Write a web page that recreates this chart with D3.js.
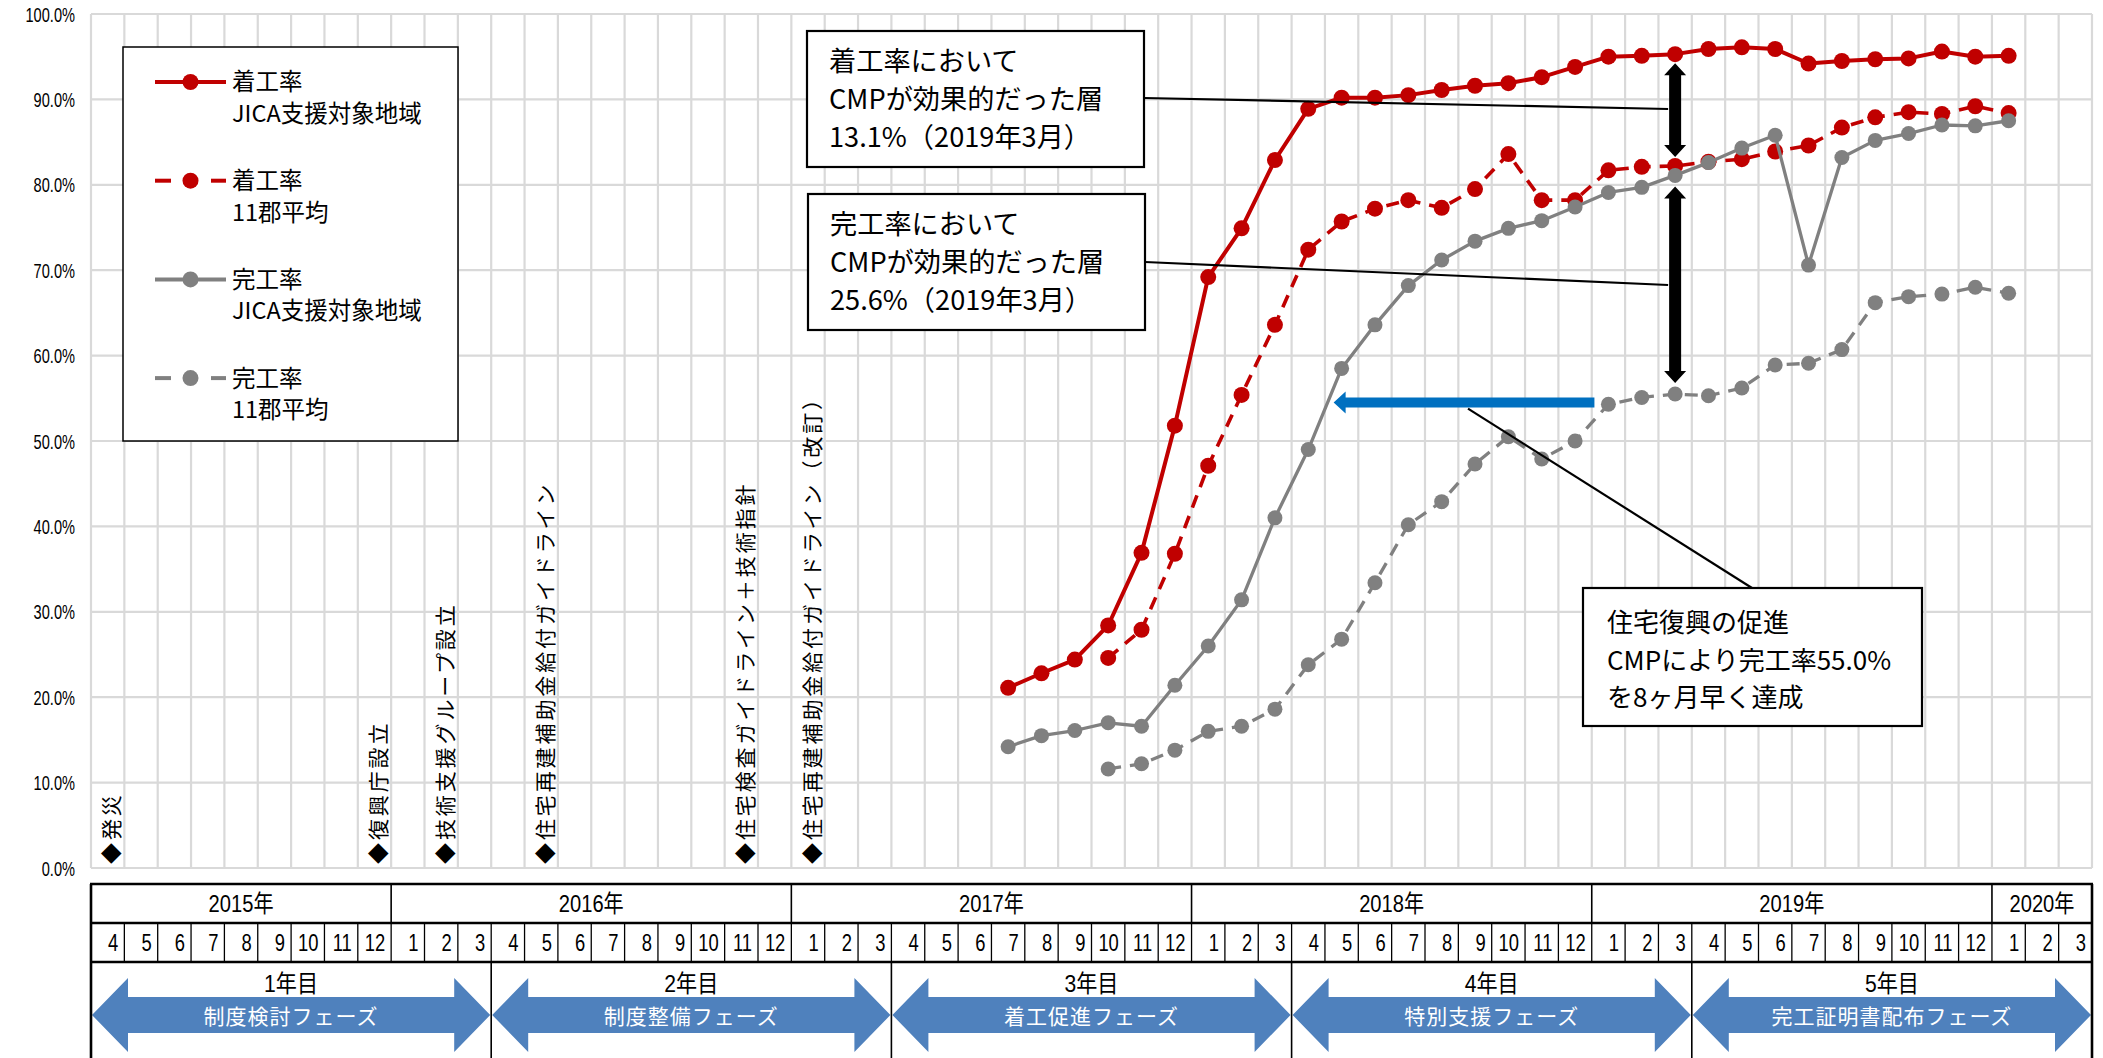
<!DOCTYPE html>
<html>
<head>
<meta charset="utf-8">
<script src="https://cdn.jsdelivr.net/npm/d3@7"></script>
<style>
  body { margin: 0; background: #fff; }
  svg { display: block; font-family: "Noto Sans CJK JP", "Noto Sans", sans-serif; }
</style>
</head>
<body>
<svg id="chart" width="2103" height="1058"></svg>
<script>
// ---- categories: months of the five project years (Apr 2015 – Mar 2020) ----
const monthKeys = [
  "2015-04","2015-05","2015-06","2015-07","2015-08","2015-09","2015-10","2015-11","2015-12",
  "2016-01","2016-02","2016-03","2016-04","2016-05","2016-06","2016-07","2016-08","2016-09","2016-10","2016-11","2016-12",
  "2017-01","2017-02","2017-03","2017-04","2017-05","2017-06","2017-07","2017-08","2017-09","2017-10","2017-11","2017-12",
  "2018-01","2018-02","2018-03","2018-04","2018-05","2018-06","2018-07","2018-08","2018-09","2018-10","2018-11","2018-12",
  "2019-01","2019-02","2019-03","2019-04","2019-05","2019-06","2019-07","2019-08","2019-09","2019-10","2019-11","2019-12",
  "2020-01","2020-02","2020-03"
];
const monthTicks = [
  4,5,6,7,8,9,10,11,12,
  1,2,3,4,5,6,7,8,9,10,11,12,
  1,2,3,4,5,6,7,8,9,10,11,12,
  1,2,3,4,5,6,7,8,9,10,11,12,
  1,2,3,4,5,6,7,8,9,10,11,12,
  1,2,3
];
const yearLabels = ["2015年","2016年","2017年","2018年","2019年","2020年"];
const yearFirstMonth = ["2015-04","2016-01","2017-01","2018-01","2019-01","2020-01"];
const yTickValues = [0,10,20,30,40,50,60,70,80,90,100];

// ---- series values (%) ----
const startJICA = "2017-07";
const start11 = "2017-10";
const chakkouJICA = [21.1,22.8,24.4,28.4,36.9,51.8,
  69.2,74.9,82.9,88.9,90.2,90.2,90.5,91.1,91.6,91.9,92.6,93.8,
  95.0,95.1,95.3,95.9,96.1,95.9,94.2,94.5,94.7,94.8,95.6,95.0,
  95.1];
const chakkou11 = [24.6,27.9,36.8,
  47.1,55.4,63.6,72.4,75.7,77.2,78.2,77.3,79.5,83.6,78.2,78.2,
  81.7,82.1,82.2,82.7,83.0,83.9,84.6,86.7,87.9,88.5,88.3,89.2,
  88.4];
const kankouJICA = [14.2,15.5,16.1,17.0,16.6,21.4,
  26.0,31.4,41.0,49.0,58.5,63.6,68.2,71.2,73.4,74.9,75.8,77.4,
  79.1,79.7,81.1,82.6,84.3,85.8,70.6,83.2,85.2,86.0,87.0,86.9,
  87.5];
const kankou11 = [11.6,12.2,13.8,
  16.0,16.6,18.6,23.8,26.8,33.4,40.2,42.9,47.3,50.5,47.9,50.0,
  54.3,55.1,55.5,55.3,56.2,58.9,59.1,60.7,66.2,66.9,67.2,68.0,
  67.3];

// ---- milestones ----
const eventLabels = ["◆発災","◆復興庁設立","◆技術支援グループ設立","◆住宅再建補助金給付ガイドライン",
  "◆住宅検査ガイドライン＋技術指針","◆住宅再建補助金給付ガイドライン（改訂）"];
const eventMonths = ["2015-04","2015-12","2016-02","2016-05","2016-11","2017-01"];

// ---- project phases ----
const phaseYears = ["1年目","2年目","3年目","4年目","5年目"];
const phaseNames = ["制度検討フェーズ","制度整備フェーズ","着工促進フェーズ","特別支援フェーズ","完工証明書配布フェーズ"];
const phaseStarts = ["2015-04","2016-04","2017-04","2018-04","2019-04"];

// ---- annotations ----
const gapMonth = "2019-03";
const earlyFrom = "2019-01", earlyTo = "2018-05", earlyLevel = 54.5;
const note1 = ["着工率において","CMPが効果的だった層","13.1%（2019年3月）"];
const note2 = ["完工率において","CMPが効果的だった層","25.6%（2019年3月）"];
const note3 = ["住宅復興の促進","CMPにより完工率55.0%","を8ヶ月早く達成"];

// ================= drawing =================
const svg = d3.select("#chart");
const RED = "#C00000", GRAY = "#808080", GRID = "#D9D9D9";
const narrow = "Liberation Sans, Arial, Noto Sans CJK JP, sans-serif";

const x = d3.scaleBand().domain(monthKeys).range([91, 2092]).padding(0);
const y = d3.scaleLinear().domain([0, 100]).range([868, 14]);
const bw = x.bandwidth();
const cx = k => x(k) + bw / 2;
const xEnd = k => x(k) + bw;

// grid
const grid = svg.append("g");
grid.selectAll("line.v").data(monthKeys.concat(["__end"])).join("line")
  .attr("x1", d => d === "__end" ? x.range()[1] : x(d))
  .attr("x2", d => d === "__end" ? x.range()[1] : x(d))
  .attr("y1", y(100)).attr("y2", y(0))
  .attr("stroke", GRID).attr("stroke-width", 2.2);
grid.selectAll("line.h").data(yTickValues).join("line")
  .attr("x1", x.range()[0]).attr("x2", x.range()[1])
  .attr("y1", d => y(d)).attr("y2", d => y(d))
  .attr("stroke", GRID).attr("stroke-width", 2.2);

// y axis labels
const yAxis = d3.axisLeft(y).tickValues(yTickValues)
  .tickFormat(d => d.toFixed(1) + "%").tickSize(0).tickPadding(0);
const ya = svg.append("g").attr("transform", "translate(75,0)").call(yAxis)
  .attr("font-size", 20).attr("font-family", narrow);
ya.select(".domain").remove();
ya.selectAll("text")
  .attr("x", 0).attr("dy", "0.35em")
  .attr("font-size", 20).attr("font-family", narrow).attr("fill", "#000")
  .attr("transform", "scale(0.73,1)");

// milestone labels (vertical)
svg.append("g").selectAll("text").data(eventLabels).join("text")
  .attr("transform", (d, i) => `translate(${cx(eventMonths[i]) + 4},864) rotate(-90)`)
  .attr("dy", "0.36em")
  .attr("font-size", 21).attr("letter-spacing", "2.9px").attr("fill", "#000")
  .text(d => d);

// legend
const legendItems = [
  { a: "着工率", b: "JICA支援対象地域", color: RED, dash: false },
  { a: "着工率", b: "11郡平均", color: RED, dash: true },
  { a: "完工率", b: "JICA支援対象地域", color: GRAY, dash: false },
  { a: "完工率", b: "11郡平均", color: GRAY, dash: true }
];
const lg = svg.append("g");
lg.append("rect").attr("x", 123).attr("y", 47).attr("width", 335).attr("height", 394)
  .attr("fill", "#fff").attr("stroke", "#000").attr("stroke-width", 1.5);
const li = lg.selectAll("g").data(legendItems).join("g")
  .attr("transform", (d, i) => `translate(0,${82 + i * 98.7})`);
li.each(function (d) {
  const g = d3.select(this);
  if (d.dash) {
    g.append("line").attr("x1", 155).attr("x2", 171).attr("y1", 0).attr("y2", 0)
      .attr("stroke", d.color).attr("stroke-width", 4);
    g.append("line").attr("x1", 211).attr("x2", 226).attr("y1", 0).attr("y2", 0)
      .attr("stroke", d.color).attr("stroke-width", 4);
  } else {
    g.append("line").attr("x1", 155).attr("x2", 226).attr("y1", 0).attr("y2", 0)
      .attr("stroke", d.color).attr("stroke-width", 4);
  }
  g.append("circle").attr("cx", 190.5).attr("cy", 0).attr("r", 8).attr("fill", d.color);
  g.append("text").attr("x", 232).attr("y", 0).attr("dy", "0.36em")
    .attr("font-size", 23.5).attr("fill", "#000").text(d.a);
  g.append("text").attr("x", 232).attr("y", 31.5).attr("dy", "0.36em")
    .attr("font-size", 23.5).attr("fill", "#000").text(d.b);
});

// series
const seriesDefs = [
  { values: chakkouJICA, start: startJICA, color: RED, width: 4, dash: null, r: 8 },
  { values: chakkou11, start: start11, color: RED, width: 3.6, dash: "13,9", r: 8 },
  { values: kankouJICA, start: startJICA, color: GRAY, width: 3.3, dash: null, r: 7.5 },
  { values: kankou11, start: start11, color: GRAY, width: 3.3, dash: "13,9", r: 7.5 }
];
const line = d3.line().x(d => cx(d.m)).y(d => y(d.v));
seriesDefs.forEach(s => {
  const s0 = monthKeys.indexOf(s.start);
  const pts = s.values.map((v, i) => ({ m: monthKeys[s0 + i], v }));
  const g = svg.append("g");
  g.append("path").datum(pts).attr("d", line)
    .attr("fill", "none").attr("stroke", s.color).attr("stroke-width", s.width)
    .attr("stroke-dasharray", s.dash).attr("stroke-linejoin", "round");
  g.selectAll("circle").data(pts).join("circle")
    .attr("cx", d => cx(d.m)).attr("cy", d => y(d.v)).attr("r", s.r).attr("fill", s.color);
});

// value lookup for annotations
function valueAt(arr, start, m) { return arr[monthKeys.indexOf(m) - monthKeys.indexOf(start)]; }

// vertical double-headed arrow
function doubleArrow(xc, yTop, yBot, shaft, head, headLen, color) {
  const p = d3.path();
  const hs = shaft / 2, hh = head / 2;
  p.moveTo(xc, yTop);
  p.lineTo(xc + hh, yTop + headLen); p.lineTo(xc + hs, yTop + headLen);
  p.lineTo(xc + hs, yBot - headLen); p.lineTo(xc + hh, yBot - headLen);
  p.lineTo(xc, yBot);
  p.lineTo(xc - hh, yBot - headLen); p.lineTo(xc - hs, yBot - headLen);
  p.lineTo(xc - hs, yTop + headLen); p.lineTo(xc - hh, yTop + headLen);
  p.closePath();
  svg.append("path").attr("d", p.toString()).attr("fill", color);
}
const ax = cx(gapMonth);
doubleArrow(ax, y(valueAt(chakkouJICA, startJICA, gapMonth)) + 9,
  y(valueAt(chakkou11, start11, gapMonth)) - 9, 12, 22, 12, "#000");
doubleArrow(ax, y(valueAt(kankouJICA, startJICA, gapMonth)) + 11,
  y(valueAt(kankou11, start11, gapMonth)) - 11, 12, 22, 12, "#000");

// horizontal blue arrow: time advantage
{
  const yb = y(earlyLevel);
  const xr = cx(earlyFrom) - 14, xt = cx(earlyTo) - 8;
  const hl = 12, sh = 5, hh = 11;
  const p = d3.path();
  p.moveTo(xt, yb); p.lineTo(xt + hl, yb - hh); p.lineTo(xt + hl, yb - sh);
  p.lineTo(xr, yb - sh); p.lineTo(xr, yb + sh); p.lineTo(xt + hl, yb + sh);
  p.lineTo(xt + hl, yb + hh); p.closePath();
  svg.append("path").attr("d", p.toString()).attr("fill", "#0070C0");
}

// callout boxes
function noteBox(bx, by, w, h, lines, tx, ty0, step, fs) {
  svg.append("rect").attr("x", bx).attr("y", by).attr("width", w).attr("height", h)
    .attr("fill", "#fff").attr("stroke", "#000").attr("stroke-width", 2.2);
  svg.append("g").selectAll("text").data(lines).join("text")
    .attr("x", tx).attr("y", (d, i) => ty0 + i * step).attr("dy", "0.36em")
    .attr("font-size", fs).attr("fill", "#000").text(d => d);
}
function leader(x1, y1, x2, y2) {
  svg.append("line").attr("x1", x1).attr("y1", y1).attr("x2", x2).attr("y2", y2)
    .attr("stroke", "#000").attr("stroke-width", 2.2);
}
leader(1144, 98, ax - 7, 109);
leader(1145, 262, ax - 7, 285);
leader(1468, y(earlyLevel) + 6, 1752, 588);
noteBox(807, 31, 337, 136, note1, 829, 61, 38, 27.2);
noteBox(808, 194, 337, 136, note2, 830, 224, 38, 27.2);
noteBox(1583, 588, 339, 138, note3, 1607, 623, 37.5, 26);

// ================= bottom table =================
const T0 = 884, T1 = 923, T2 = 962, T3 = 1058;
const XL = x.range()[0], XR = x.range()[1];
const tb = svg.append("g");

// phase arrows
const PH = 12;
phaseStarts.forEach((s, i) => {
  const a = x(s), b = x(monthKeys[monthKeys.indexOf(s) + PH - 1]) + bw;
  const yc = 1015, hl = 36, hh = 37, sh = 18;
  const p = d3.path();
  p.moveTo(a + 1, yc); p.lineTo(a + 1 + hl, yc - hh); p.lineTo(a + 1 + hl, yc - sh);
  p.lineTo(b - 1 - hl, yc - sh); p.lineTo(b - 1 - hl, yc - hh); p.lineTo(b - 1, yc);
  p.lineTo(b - 1 - hl, yc + hh); p.lineTo(b - 1 - hl, yc + sh);
  p.lineTo(a + 1 + hl, yc + sh); p.lineTo(a + 1 + hl, yc + hh); p.closePath();
  tb.append("path").attr("d", p.toString()).attr("fill", "#4F81BD");
  const mid = (a + b) / 2;
  tb.append("text").attr("transform", `translate(${mid},983) scale(0.88,1)`)
    .attr("text-anchor", "middle").attr("dy", "0.36em")
    .attr("font-family", narrow).attr("font-size", 24).attr("fill", "#000")
    .text(phaseYears[i]);
  tb.append("text").attr("x", mid).attr("y", 1016).attr("dy", "0.36em")
    .attr("text-anchor", "middle").attr("font-size", 21).attr("fill", "#fff")
    .attr("letter-spacing", "1px").text(phaseNames[i]);
});

// month cells
tb.selectAll("line.m").data(monthKeys.slice(1)).join("line")
  .attr("x1", d => x(d)).attr("x2", d => x(d)).attr("y1", T1).attr("y2", T2)
  .attr("stroke", "#000").attr("stroke-width", 1.3);
tb.selectAll("text.m").data(monthKeys).join("text")
  .attr("transform", d => `translate(${xEnd(d) - 6},${(T1 + T2) / 2}) scale(0.8,1)`)
  .attr("text-anchor", "end").attr("dy", "0.36em")
  .attr("font-family", narrow).attr("font-size", 23).attr("fill", "#000")
  .text((d, i) => monthTicks[i]);

// year cells
tb.selectAll("line.y").data(yearFirstMonth.slice(1)).join("line")
  .attr("x1", d => x(d)).attr("x2", d => x(d)).attr("y1", T0).attr("y2", T1)
  .attr("stroke", "#000").attr("stroke-width", 1.6);
tb.selectAll("text.y").data(yearLabels).join("text")
  .attr("transform", (d, i) => {
    const a = x(yearFirstMonth[i]);
    const b = i + 1 < yearFirstMonth.length ? x(yearFirstMonth[i + 1]) : XR;
    return `translate(${(a + b) / 2},${(T0 + T1) / 2}) scale(0.84,1)`;
  })
  .attr("text-anchor", "middle").attr("dy", "0.36em")
  .attr("font-family", narrow).attr("font-size", 24).attr("fill", "#000")
  .text(d => d);

// phase separators
tb.selectAll("line.p").data(phaseStarts.slice(1)).join("line")
  .attr("x1", d => x(d)).attr("x2", d => x(d)).attr("y1", T2).attr("y2", T3)
  .attr("stroke", "#000").attr("stroke-width", 1.6);

// frame
[T0, T1, T2].forEach(v => tb.append("line").attr("x1", XL - 1).attr("x2", XR + 1)
  .attr("y1", v).attr("y2", v).attr("stroke", "#000").attr("stroke-width", 2.6));
[XL, XR].forEach(v => tb.append("line").attr("x1", v).attr("x2", v)
  .attr("y1", T0).attr("y2", T3).attr("stroke", "#000").attr("stroke-width", 2.6));
</script>
</body>
</html>
